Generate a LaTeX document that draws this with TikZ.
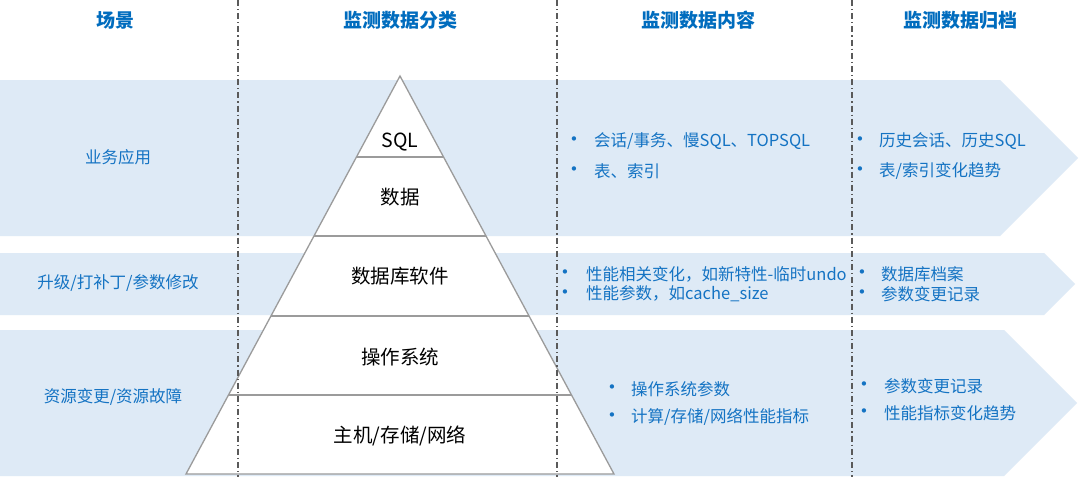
\documentclass[tikz,border=0pt]{standalone}
\usepackage{fontspec}
\setmainfont{Noto Sans CJK SC}
\newfontfamily\cjk{Noto Sans CJK SC}
\newfontfamily\bulletfont{DejaVu Sans}
\definecolor{bandfill}{RGB}{222,234,246}
\definecolor{txtblue}{RGB}{20,115,195}
\definecolor{headblue}{RGB}{0,108,190}
\definecolor{pyrline}{RGB}{155,155,155}
\definecolor{sepcol}{RGB}{90,90,90}
\begin{document}
\begin{tikzpicture}[x=1pt,y=-1pt,
  bandshape/.style={fill=bandfill,draw=none},
  headtext/.style={text=headblue,font=\cjk\bfseries\fontsize{19}{23}\selectfont,inner sep=0},
  sidetext/.style={text=txtblue,font=\cjk\fontsize{16.5}{20}\selectfont,inner sep=0},
  itemtext/.style={text=txtblue,font=\cjk\fontsize{16.5}{20}\selectfont,anchor=west,inner sep=0},
  bulletmark/.style={text=txtblue,font=\bulletfont\fontsize{15}{17}\selectfont,inner sep=0},
  pyrlabel/.style={text=black,font=\cjk\fontsize{19.5}{24}\selectfont,inner sep=0},
  pyrshape/.style={draw=pyrline,line width=1.3pt,fill=white,line join=miter},
  pyrdiv/.style={draw=pyrline,line width=1.3pt},
  colsep/.style={draw=sepcol,line width=1.1pt,dash pattern=on 6pt off 3pt on 1.2pt off 3pt}]
\useasboundingbox (0,0) rectangle (1080,477);
\fill[white] (0,0) rectangle (1080,477);
% bands
\path[bandshape] (0,80) -- (1000,80) -- (1078,158) -- (1000,236) -- (0,236) -- cycle;
\path[bandshape] (0,253) -- (1044,253) -- (1075,284) -- (1044,315) -- (0,315) -- cycle;
\path[bandshape] (0,330) -- (1004,330) -- (1077,403) -- (1004,476) -- (0,476) -- cycle;
% pyramid
\path[pyrshape] (400,76) -- (614,474) -- (186,474) -- cycle;
\draw[pyrdiv] (356.4,157) -- (443.6,157);
\draw[pyrdiv] (314,236) -- (486,236);
\draw[pyrdiv] (271,316) -- (529,316);
\draw[pyrdiv] (228.5,395) -- (571.5,395);
% column separators
\coordinate (s1t) at (238,0); \coordinate (s1b) at (238,477);
\coordinate (s2t) at (557,0); \coordinate (s2b) at (557,477);
\coordinate (s3t) at (852,0); \coordinate (s3b) at (852,477);
\draw[colsep] (s1t) -- (s1b);
\draw[colsep] (s2t) -- (s2b);
\draw[colsep] (s3t) -- (s3b);
% headers
\node[headtext] (h1) at (115,20) {场景};
\node[headtext] (h2) at (400,20) {监测数据分类};
\node[headtext] (h3) at (698,20) {监测数据内容};
\node[headtext] (h4) at (960,20) {监测数据归档};
% scenarios
\node[sidetext] (sc1) at (118,157) {业务应用};
\node[sidetext] (sc2) at (118,283) {升级/打补丁/参数修改};
\node[sidetext] (sc3) at (113,397) {资源变更/资源故障};
% pyramid labels
\node[pyrlabel] (p1) at (400,142) {SQL};
\node[pyrlabel] (p2) at (400,197) {数据};
\node[pyrlabel] (p3) at (400,276) {数据库软件};
\node[pyrlabel] (p4) at (400,357) {操作系统};
\node[pyrlabel] (p5) at (400,436) {主机/存储/网络};
% content column, band 1
\node[bulletmark] (b11) at (574,141) {•};
\node[itemtext] (c11) at (594,141) {会话/事务、慢SQL、TOPSQL};
\node[bulletmark] (b12) at (574,171) {•};
\node[itemtext] (c12) at (594,171) {表、索引};
% archive column, band 1
\node[bulletmark] (b13) at (860,141) {•};
\node[itemtext] (c13) at (879,141) {历史会话、历史SQL};
\node[bulletmark] (b14) at (860,171) {•};
\node[itemtext] (c14) at (879,171) {表/索引变化趋势};
% band 2
\node[bulletmark] (b21) at (565,274) {•};
\node[itemtext] (c21) at (586,274) {性能相关变化，如新特性-临时undo};
\node[bulletmark] (b22) at (565,294) {•};
\node[itemtext] (c22) at (586,294) {性能参数，如cache\_size};
\node[bulletmark] (b23) at (862,274) {•};
\node[itemtext] (c23) at (881,274) {数据库档案};
\node[bulletmark] (b24) at (862,294) {•};
\node[itemtext] (c24) at (881,294) {参数变更记录};
% band 3
\node[bulletmark] (b31) at (612,389) {•};
\node[itemtext] (c31) at (631,389) {操作系统参数};
\node[bulletmark] (b32) at (612,417) {•};
\node[itemtext] (c32) at (631,417) {计算/存储/网络性能指标};
\node[bulletmark] (b33) at (864,386) {•};
\node[itemtext] (c33) at (884,386) {参数变更记录};
\node[bulletmark] (b34) at (864,413) {•};
\node[itemtext] (c34) at (884,413) {性能指标变化趋势};
\end{tikzpicture}
\end{document}
